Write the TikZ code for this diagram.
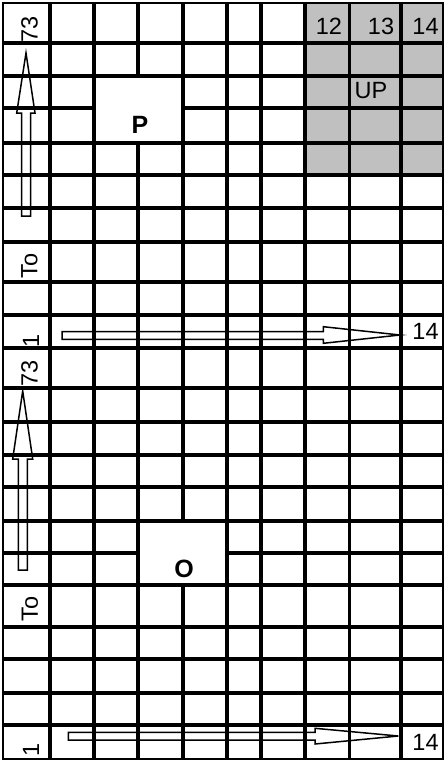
\documentclass[tikz,border=0pt]{standalone}
\usepackage{fontspec}
\setmainfont{Liberation Sans}
\definecolor{cellgray}{HTML}{C0C0C0}
\begin{document}
\begin{tikzpicture}[x=1pt,y=-1pt,
  gridline/.style={line width=3.4pt,black},
  frame/.style={line width=2.2pt,black},
  blockarrow/.style={line width=1.5pt,black,line join=miter},
  lbl/.style={font=\fontsize{23.5}{27}\selectfont,inner sep=0pt},
  biglbl/.style={font=\fontsize{25}{29}\selectfont\bfseries,inner sep=0pt}]
\useasboundingbox (0,0) rectangle (445,761);
\fill[white] (0,0) rectangle (445,761);
% shaded block
\fill[cellgray] (305,3) rectangle (443,175);
% vertical grid lines
\foreach \x in {50,94,227,261,305,349.5,401}
  \draw[gridline] (\x,3) -- (\x,759);
\draw[gridline] (138,3) -- (138,76);
\draw[gridline] (138,143) -- (138,759);
\draw[gridline] (183,3) -- (183,521);
\draw[gridline] (183,585) -- (183,759);
% horizontal grid lines
\foreach \y in {43,76,143,175,208,242,282,315,348,388,422,455,487,521,585,627,659,693,725}
  \draw[gridline] (3,\y) -- (443,\y);
\draw[gridline] (3,108) -- (94,108);
\draw[gridline] (183,108) -- (443,108);
\draw[gridline] (3,553) -- (138,553);
\draw[gridline] (227,553) -- (443,553);
% outer frame
\draw[frame] (3,3) rectangle (443,759);
% block arrows
\draw[blockarrow] (21.7,216) -- (21.7,113) -- (16.7,113) -- (26,53) -- (35,113) -- (30.7,113) -- (30.7,216) -- cycle;
\draw[blockarrow] (18.3,570) -- (18.3,459) -- (12.7,459) -- (22.7,391) -- (32.7,459) -- (27.3,459) -- (27.3,570) -- cycle;
\draw[blockarrow] (62,331.7) -- (323.3,331.7) -- (323.3,326.7) -- (400,335) -- (323.3,343.3) -- (323.3,339.3) -- (62,339.3) -- cycle;
\draw[blockarrow] (68.3,732.3) -- (315,732.3) -- (315,728.3) -- (398.3,736) -- (315,744) -- (315,740) -- (68.3,740) -- cycle;
% labels
\node[lbl,rotate=90] (t73a) at (29.5,29) {73};
\node[lbl,rotate=90] (toa) at (29.5,266) {To};
\node[lbl,rotate=90] (onea) at (31,341) {1};
\node[lbl,rotate=90] (t73b) at (29.5,373) {73};
\node[lbl,rotate=90] (tob) at (30,609) {To};
\node[lbl,rotate=90] (oneb) at (31,750) {1};
\node[lbl] (c12) at (329,26) {12};
\node[lbl] (c13) at (381,26) {13};
\node[lbl] (c14) at (425.5,26) {14};
\node[lbl] (up) at (371,91) {UP};
\node[lbl] (r14a) at (425.5,331) {14};
\node[lbl] (r14b) at (425.5,742) {14};
\node[biglbl] (p) at (140,125) {P};
\node[biglbl] (o) at (184,569) {O};
\end{tikzpicture}
\end{document}
